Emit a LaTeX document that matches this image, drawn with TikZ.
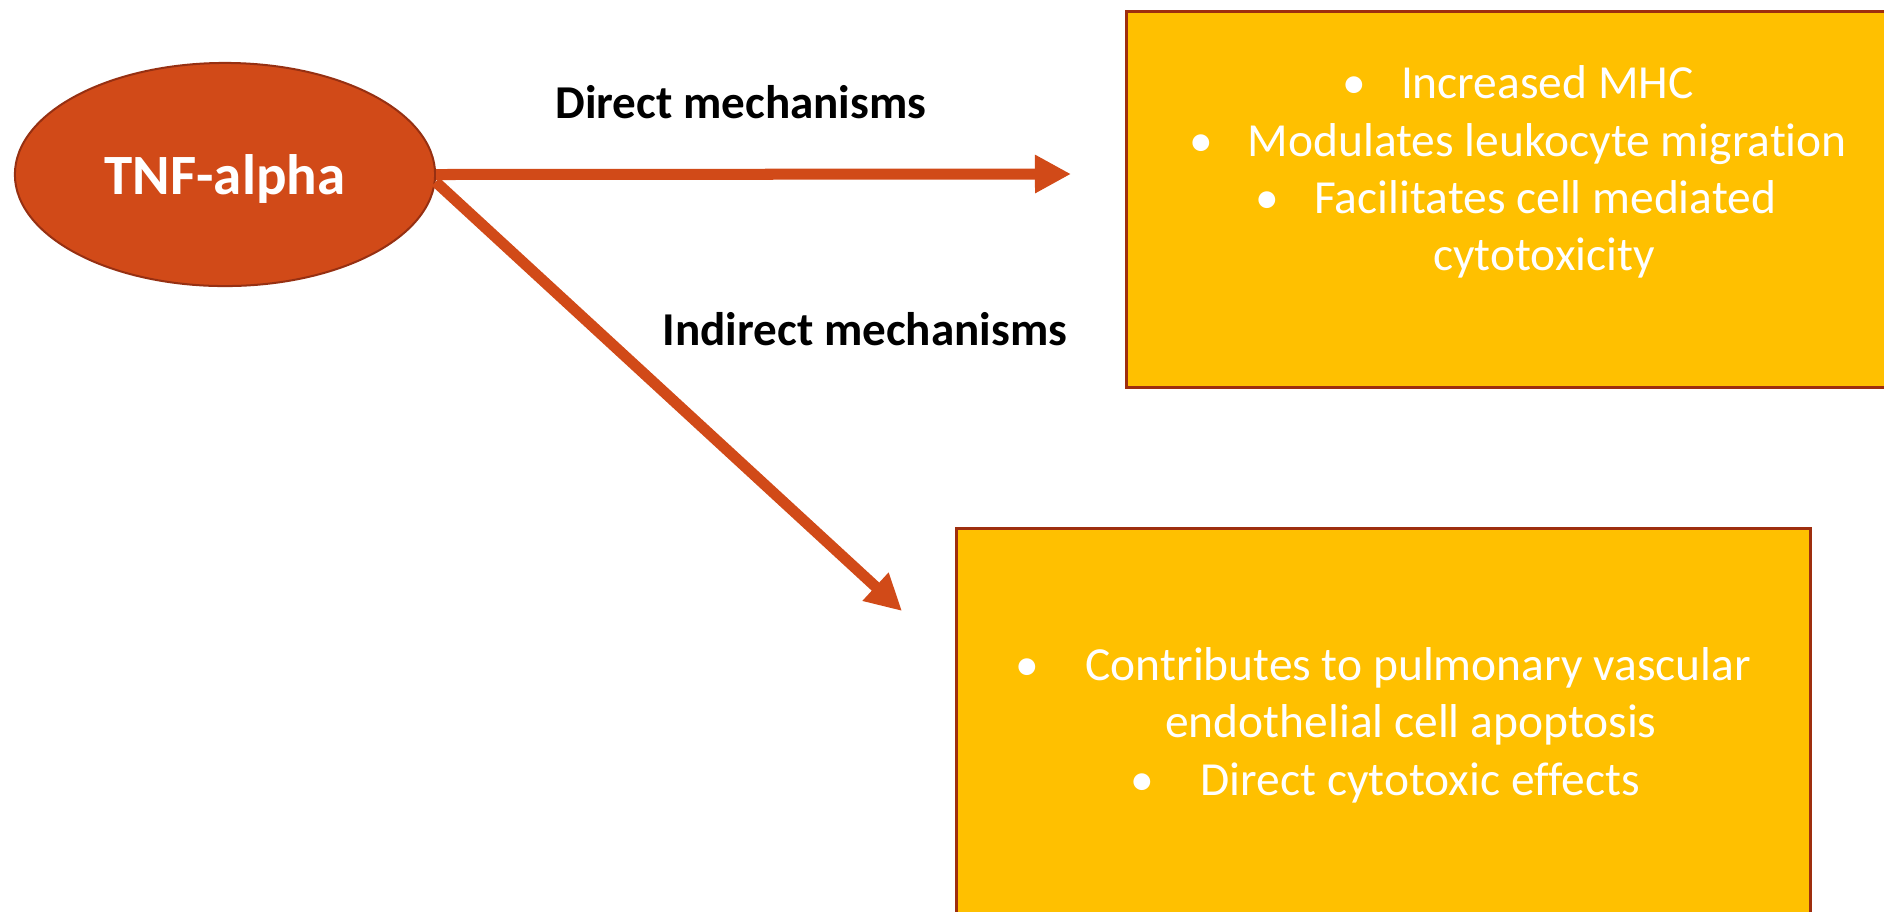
\documentclass[tikz,border=0pt]{standalone}
\usepackage{fontspec}
\setmainfont{Carlito}[Ligatures=NoCommon]
\usetikzlibrary{arrows, arrows.meta, shapes.geometric}
\definecolor{tnfred}{RGB}{209,74,24}
\definecolor{tnfdark}{RGB}{150,48,18}
\definecolor{boxgold}{RGB}{255,192,0}
\definecolor{boxedge}{RGB}{158,46,14}
\tikzset{
  effect/.style={fill=boxgold, draw=boxedge, line width=0.03cm, anchor=north west, inner sep=0pt},
  bul/.style={anchor=base, text=white, inner sep=0pt, font=\fontsize{13.5}{16}\selectfont},
  mech/.style={anchor=base, inner sep=0pt, font=\fontsize{13.4}{16}\selectfont\bfseries},
  route/.style={draw=tnfred, line width=0.11cm, -{Triangle[length=0.36cm,width=0.36cm,fill=tnfred]}}
}

\begin{document}
\begin{tikzpicture}[x=0.01cm,y=-0.01cm]
\useasboundingbox (0,0) rectangle (1884,911);
\clip (0,0) rectangle (1884,911);

\node[effect, minimum width=8.4cm, minimum height=3.76cm] (upbox) at (1125,10){};
\node[effect, minimum width=8.53cm, minimum height=4.6cm] (lowbox) at (955,527){};

\node[ellipse, fill=tnfred, draw=tnfdark, line width=0.02cm, minimum width=4.2cm, minimum height=2.23cm, inner sep=0pt, text=white, text depth=0pt, font=\fontsize{16.2}{19}\selectfont\bfseries] (tnf) at (225,174.5){TNF-alpha};

\coordinate (dirtip) at (1071,174);
\coordinate (indtip) at (902,611);
\draw[route] (tnf.east) -- (dirtip);
\draw[route] (tnf.-2) -- (indtip);

\node[mech] (dirlbl) at (741,118){Direct mechanisms};
\node[mech] (indlbl) at (865,345){Indirect mechanisms};

\node[bul] (upa) at (1518,98){\textbullet\hspace{0.35cm}Increased MHC};
\node[bul] (upb) at (1518,156){\textbullet\hspace{0.35cm}Modulates leukocyte migration};
\node[bul] (upc) at (1516,213){\textbullet\hspace{0.35cm}Facilitates cell mediated};
\node[bul] (upd) at (1544,270){cytotoxicity};

\node[bul] (lowa) at (1383,680){\textbullet\hspace{0.47cm}Contributes to pulmonary vascular};
\node[bul] (lowb) at (1411,737){endothelial cell apoptosis};
\node[bul] (lowc) at (1385,795){\textbullet\hspace{0.47cm}Direct cytotoxic effects};
\end{tikzpicture}
\end{document}
